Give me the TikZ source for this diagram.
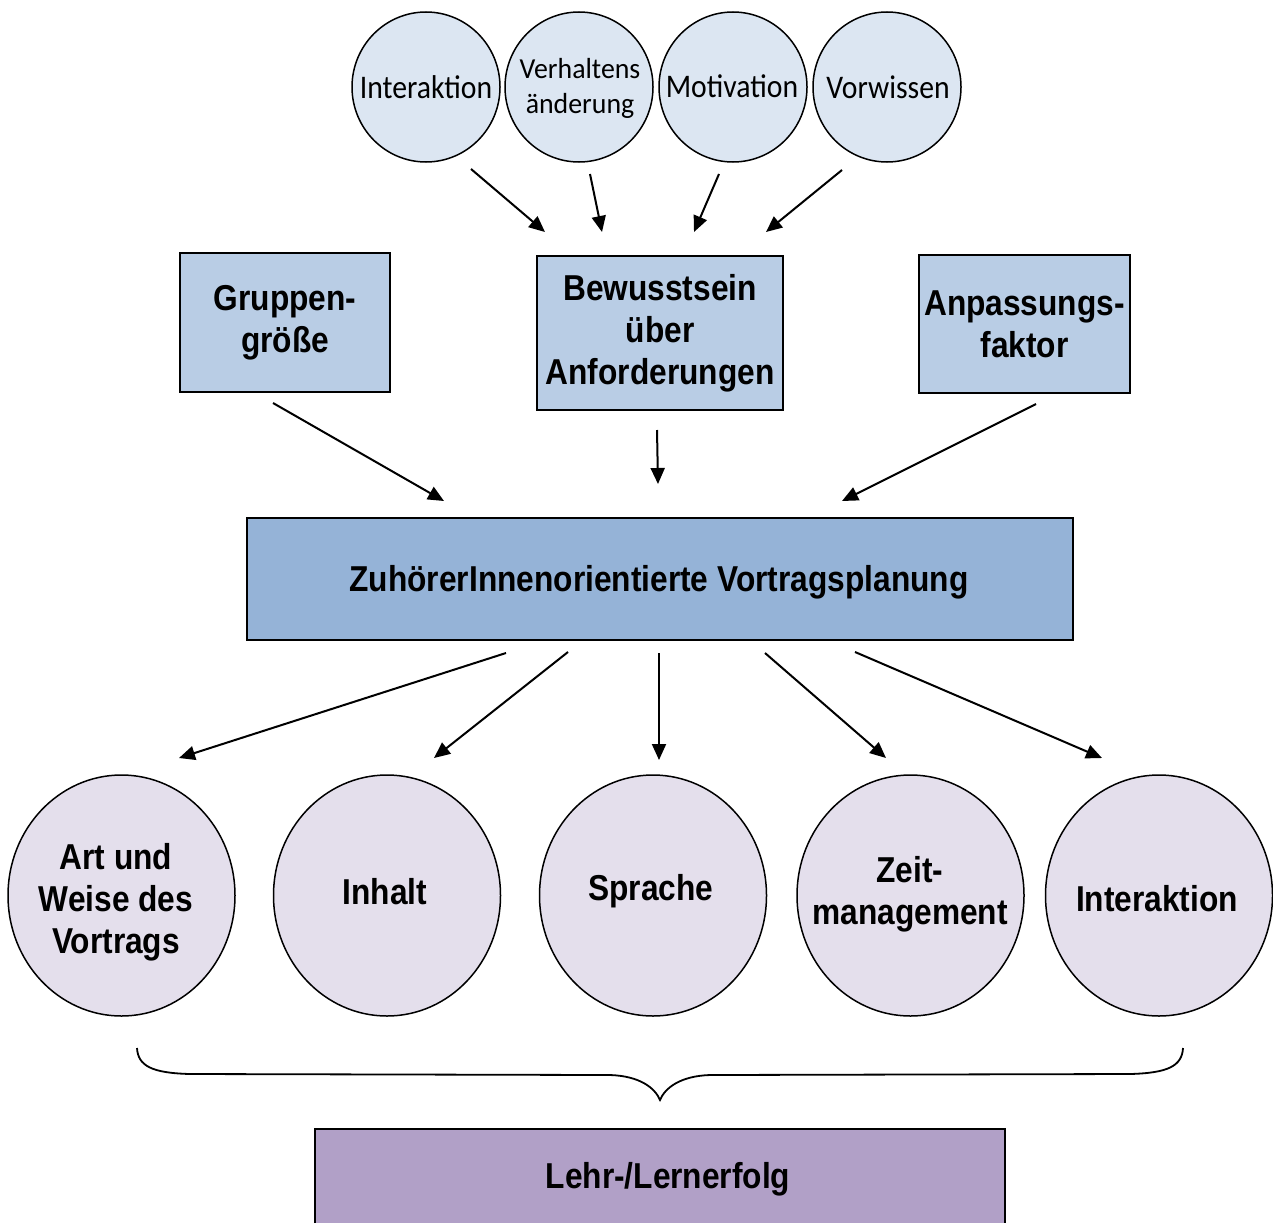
\documentclass[tikz,border=0pt]{standalone}
\usepackage{fontspec}
\usetikzlibrary{shapes.geometric,arrows.meta}
\newfontfamily\lsansb[FakeStretch=0.88]{Liberation Sans Bold}
\newfontfamily\carl[FakeStretch=0.9]{Carlito}
\newfontfamily\carlw[FakeStretch=0.96]{Carlito}
\definecolor{topfill}{HTML}{DCE6F2}
\definecolor{boxfill}{HTML}{B9CDE5}
\definecolor{mainfill}{HTML}{95B3D7}
\definecolor{circfill}{HTML}{E4DFEC}
\definecolor{endfill}{HTML}{B1A0C7}
\tikzset{
  topell/.style={ellipse, draw, line width=1.5pt, fill=topfill, inner sep=0pt,
    minimum width=148pt, minimum height=150pt},
  toptext/.style={inner sep=0pt, align=center, font=\carl\fontsize{33}{38}\selectfont},
  sbox/.style={rectangle, draw, line width=1.8pt, fill=boxfill, inner sep=0pt, align=center,
    font=\lsansb\fontsize{36}{42}\selectfont},
  mainbox/.style={rectangle, draw, line width=1.8pt, fill=mainfill, inner sep=0pt},
  botell/.style={ellipse, draw, line width=1.5pt, fill=circfill, inner sep=0pt,
    minimum width=227pt, minimum height=241pt},
  bottext/.style={inner sep=0pt, align=center, font=\lsansb\fontsize{36}{42}\selectfont},
  arr/.style={line width=2pt, -{Triangle[length=16pt,width=14pt]}},
  brace/.style={line width=1.8pt}
}
\begin{document}
\begin{tikzpicture}[x=1pt,y=-1pt]
\useasboundingbox (0,0) rectangle (1273,1223);
% top ellipses
\node[topell] (t1) at (426,87) {};
\node[topell] (t2) at (579,87) {};
\node[topell] (t3) at (733,87) {};
\node[topell] (t4) at (887,87) {};
\node[toptext] (t1t) at (426,87) {Interaktion};
\node[toptext, font=\carlw\fontsize{29}{35}\selectfont] (t2t) at (580,88) {Verhaltens\\änderung};
\node[toptext] (t3t) at (732,86) {Motivation};
\node[toptext] (t4t) at (888,87) {Vorwissen};
% boxes
\node[sbox, minimum width=210pt, minimum height=139pt] (b1) at (285,322.5) {Gruppen-\\größe};
\node[sbox, minimum width=246pt, minimum height=154pt] (b2) at (660,333) {Bewusstsein\\über\\Anforderungen};
\node[sbox, minimum width=211pt, minimum height=138pt] (b3) at (1024.5,324) {Anpassungs-\\faktor};
% main
\node[mainbox, minimum width=826pt, minimum height=122pt] (m) at (660,579) {};
\node[bottext] (mt) at (659,582) {ZuhörerInnenorientierte Vortragsplanung};
% bottom ellipses
\node[botell] (c1) at (121.5,895.5) {};
\node[botell] (c2) at (387,895.5) {};
\node[botell] (c3) at (653,895.5) {};
\node[botell] (c4) at (910.5,895.5) {};
\node[botell] (c5) at (1159,895.5) {};
\node[bottext] (c1t) at (116,902) {Art und\\Weise des\\Vortrags};
\node[bottext] (c2t) at (385,892) {Inhalt};
\node[bottext] (c3t) at (651,891) {Sprache};
\node[bottext] (c4t) at (910,894) {Zeit-\\management};
\node[bottext] (c5t) at (1157,899) {Interaktion};
% brace
\draw[brace] (137,1048) .. controls (138,1066) and (152,1073) .. (190,1074)
  -- (610,1075) .. controls (640,1076) and (655,1088) .. (660,1100)
  .. controls (665,1088) and (680,1076) .. (710,1075)
  -- (1130,1074) .. controls (1168,1073) and (1182,1066) .. (1183,1048);
% final box (extends past lower edge)
\fill[endfill] (315,1223) rectangle (1005,1129);
\draw[line width=1.8pt] (315,1223) -- (315,1129) -- (1005,1129) -- (1005,1223);
\node[bottext] (e) at (668,1179) {Lehr-/Lernerfolg};
% arrow end points
\coordinate (a1s) at (471,169); \coordinate (a1e) at (545,232);
\coordinate (a2s) at (590,174); \coordinate (a2e) at (602,232);
\coordinate (a3s) at (719,174); \coordinate (a3e) at (694,232);
\coordinate (a4s) at (842,170); \coordinate (a4e) at (766,232);
\coordinate (g1s) at (273,403); \coordinate (g1e) at (444,501);
\coordinate (g2s) at (657,430); \coordinate (g2e) at (658,484);
\coordinate (g3s) at (1036,404); \coordinate (g3e) at (842,501);
\coordinate (d1s) at (506,653); \coordinate (d1e) at (179,758);
\coordinate (d2s) at (568,652); \coordinate (d2e) at (434,758);
\coordinate (d3s) at (659,653); \coordinate (d3e) at (659,760);
\coordinate (d4s) at (765,653); \coordinate (d4e) at (886,758);
\coordinate (d5s) at (855,652); \coordinate (d5e) at (1102,758);
\draw[arr] (a1s) -- (a1e);
\draw[arr] (a2s) -- (a2e);
\draw[arr] (a3s) -- (a3e);
\draw[arr] (a4s) -- (a4e);
\draw[arr] (g1s) -- (g1e);
\draw[arr] (g2s) -- (g2e);
\draw[arr] (g3s) -- (g3e);
\draw[arr] (d1s) -- (d1e);
\draw[arr] (d2s) -- (d2e);
\draw[arr] (d3s) -- (d3e);
\draw[arr] (d4s) -- (d4e);
\draw[arr] (d5s) -- (d5e);
\end{tikzpicture}
\end{document}
